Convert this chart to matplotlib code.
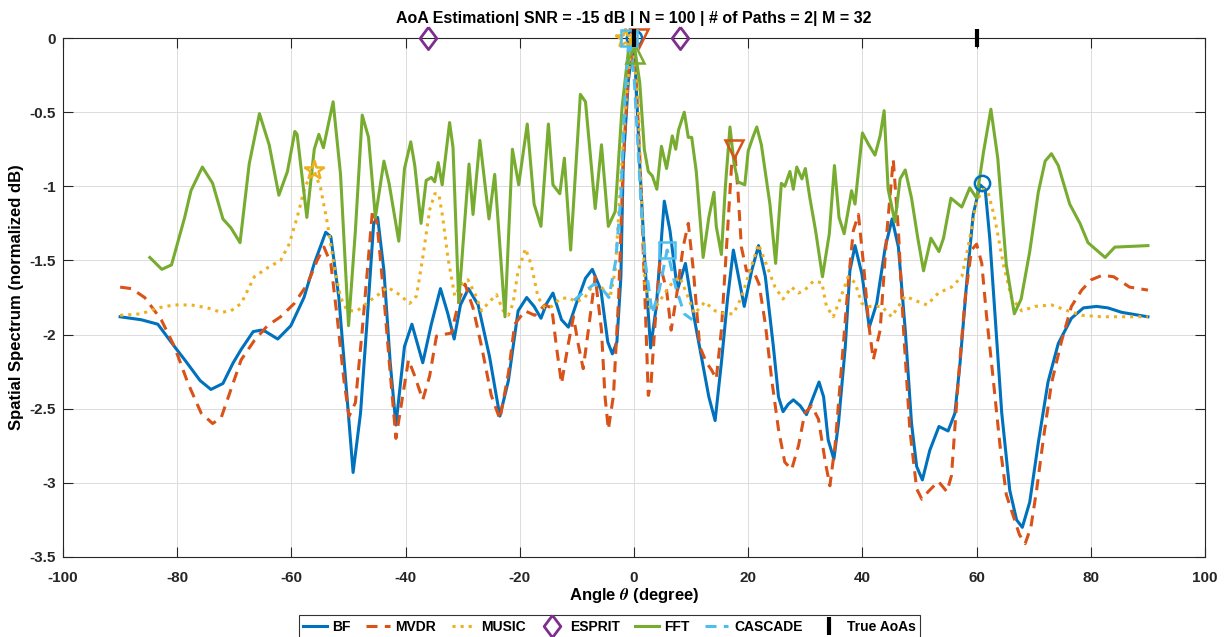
import matplotlib
matplotlib.use("Agg")
import matplotlib.pyplot as plt
from matplotlib.ticker import FuncFormatter

plt.rcParams['font.family'] = ['Liberation Sans', 'DejaVu Sans']
plt.rcParams['font.weight'] = 'bold'
plt.rcParams['axes.unicode_minus'] = False
plt.rcParams['mathtext.fontset'] = 'stix'

# spectra (angle in degree, normalized dB)
bf_ang = [-90, -86.3, -83.4, -80.5, -78.5, -76.0, -74.1, -72.0, -70.2, -68.8, -66.7, -65.3,
          -64.5, -62.4, -60.1, -57.8, -56.0, -54.0, -53.1, -51.7, -50.5, -49.2, -47.9, -46.7,
          -45.6, -44.9, -43.8, -42.7, -41.7, -40.2, -38.9, -37.0, -35.5, -33.9, -32.6, -31.5,
          -30.4, -29.0, -27.3, -25.3, -23.5, -22.0, -20.3, -18.8, -17.5, -16.3, -15.3, -14.2,
          -12.7, -11.5, -10.1, -8.5, -7.3, -5.8, -4.6, -3.8, -3.0, -2.3, -1.9, -1.0,
          0.0, 1.0, 1.9, 2.9, 3.9, 5.3, 6.3, 7.6, 9.0, 10.4, 11.7, 13.1, 14.2, 15.3, 16.4,
          17.4, 18.4, 19.3, 20.6, 21.8, 23.0, 24.4, 25.3, 26.1, 27.0, 27.9, 29.1, 30.2, 31.4,
          32.4, 33.2, 34.0, 35.0, 35.8, 37.0, 37.8, 38.7, 39.9, 41.2, 42.5, 44.0, 45.2, 46.3,
          47.5, 48.6, 49.5, 50.5, 51.8, 53.4, 55.0, 56.2, 57.1, 58.3, 59.4, 60.6, 61.5, 62.3,
          63.2, 64.4, 65.8, 67.0, 68.0, 69.3, 70.8, 72.5, 74.3, 76.6, 78.7, 81.0, 83.0, 85.4, 90]
bf_val = [-1.88, -1.90, -1.93, -2.08, -2.18, -2.31, -2.37, -2.33, -2.19, -2.10, -1.98, -1.97,
          -1.98, -2.03, -1.94, -1.75, -1.52, -1.31, -1.34, -1.75, -2.31, -2.93, -2.53, -1.88,
          -1.25, -1.21, -1.57, -2.19, -2.61, -2.08, -1.93, -2.19, -1.93, -1.69, -1.86, -2.03,
          -1.80, -1.69, -1.80, -2.15, -2.55, -2.31, -1.84, -1.75, -1.81, -1.89, -1.79, -1.72,
          -1.90, -1.95, -1.79, -1.62, -1.56, -1.70, -2.05, -2.13, -2.05, -1.61, -0.85, -0.29,
          0.0, -0.85, -1.52, -2.09, -1.81, -1.10, -1.30, -1.70, -1.52, -1.86, -2.13, -2.42,
          -2.58, -2.19, -1.75, -1.43, -1.63, -1.81, -1.57, -1.40, -1.61, -2.08, -2.42, -2.52,
          -2.47, -2.44, -2.48, -2.54, -2.42, -2.32, -2.42, -2.71, -2.84, -2.60, -2.08, -1.57,
          -1.40, -1.59, -1.95, -1.79, -1.41, -1.22, -1.41, -1.97, -2.60, -2.89, -2.98, -2.78,
          -2.62, -2.65, -2.53, -2.19, -1.63, -1.19, -0.99, -1.02, -1.35, -1.86, -2.53, -3.05,
          -3.25, -3.30, -3.13, -2.73, -2.32, -2.06, -1.89, -1.82, -1.81, -1.82, -1.85, -1.88]

mvdr_ang = [-90, -88.0, -85.7, -82.8, -80.5, -78.1, -75.8, -73.8, -72.3, -70.6, -68.8, -66.5,
            -64.2, -61.9, -59.5, -57.2, -55.5, -54.3, -53.1, -52.0, -50.8, -49.9, -48.8, -47.6,
            -46.5, -45.8, -45.0, -43.8, -42.7, -41.7, -40.5, -39.5, -38.4, -37.0, -35.8, -34.6,
            -33.5, -32.0, -30.5, -29.6, -28.2, -26.7, -25.0, -23.5, -22.0, -20.9, -19.1, -17.4,
            -15.6, -14.4, -13.6, -12.7, -11.5, -10.6, -9.8, -8.9, -8.0, -6.8, -5.7, -5.1, -4.5,
            -3.6, -2.7, -1.9, -1.0, 0.0, 1.0, 1.9, 2.5, 3.0, 3.6, 4.5, 5.7, 6.5, 7.4, 8.6, 9.5,
            10.4, 11.5, 12.7, 13.6, 14.4, 15.3, 16.2, 17.1, 17.7, 18.2, 18.8, 19.7, 20.9, 21.9,
            23.0, 24.1, 25.3, 26.4, 27.6, 28.8, 29.9, 31.1, 32.3, 33.5, 34.3, 35.2, 36.4, 37.5,
            38.4, 39.3, 40.2, 41.1, 41.9, 43.1, 44.3, 45.4, 46.3, 47.2, 48.3, 49.5, 50.4, 51.5,
            53.3, 54.8, 55.6, 56.8, 58.0, 59.1, 60.0, 60.9, 61.7, 62.9, 64.1, 65.2, 66.4, 67.5,
            68.5, 69.5, 70.5, 71.7, 73.1, 74.9, 76.6, 78.4, 80.1, 82.0, 84.0, 86.8, 90]
mvdr_val = [-1.68, -1.69, -1.75, -1.90, -2.08, -2.33, -2.53, -2.60, -2.56, -2.37, -2.17, -2.04,
            -1.94, -1.88, -1.79, -1.66, -1.50, -1.41, -1.52, -1.88, -2.31, -2.55, -2.46, -1.97,
            -1.48, -1.16, -1.25, -1.75, -2.26, -2.70, -2.41, -2.17, -2.28, -2.44, -2.28, -2.01,
            -2.00, -1.99, -1.75, -1.66, -1.82, -2.08, -2.41, -2.57, -2.26, -1.93, -1.84, -1.87,
            -1.80, -1.82, -2.08, -2.33, -2.06, -1.88, -2.06, -2.23, -1.97, -1.61, -1.97, -2.41,
            -2.64, -2.41, -1.75, -0.85, -0.22, -0.03, -0.80, -1.74, -2.41, -2.32, -1.97, -1.52,
            -1.70, -1.97, -1.75, -1.41, -1.25, -1.57, -2.08, -2.19, -2.24, -2.30, -1.97, -1.41,
            -0.85, -0.80, -1.03, -1.41, -1.57, -1.57, -1.66, -1.93, -2.30, -2.64, -2.86, -2.91,
            -2.75, -2.53, -2.48, -2.57, -2.86, -3.02, -2.75, -2.19, -1.66, -1.30, -1.19, -1.53,
            -1.93, -2.17, -1.97, -1.30, -0.82, -1.30, -1.97, -2.64, -3.04, -3.11, -3.06, -2.99,
            -3.06, -2.95, -2.30, -1.75, -1.43, -1.39, -1.52, -1.86, -2.30, -2.75, -3.08, -3.22,
            -3.35, -3.41, -3.30, -3.05, -2.70, -2.33, -2.04, -1.81, -1.70, -1.63, -1.60, -1.61,
            -1.68, -1.70]

music_ang = [-90, -86.3, -83.4, -80.5, -77.6, -74.7, -72.3, -70.6, -68.8, -66.5, -64.2, -61.9,
             -60.4, -59.0, -57.8, -56.9, -56.0, -54.9, -53.7, -52.6, -51.4, -50.2, -48.5, -46.2,
             -44.4, -43.2, -41.5, -40.8, -39.3, -38.1, -37.0, -35.8, -34.9, -34.2, -33.5, -32.6,
             -31.4, -30.2, -29.1, -27.9, -26.7, -25.6, -24.1, -22.9, -22.0, -21.2, -20.3, -19.0,
             -18.0, -16.8, -15.6, -14.4, -13.0, -11.5, -10.1, -8.6, -7.1, -5.7, -4.2, -3.3, -2.5,
             -1.6, -0.7, -0.3, 0.7, 1.3, 1.9, 2.7, 3.9, 5.4, 6.5, 8.0, 9.5, 10.6, 12.4, 14.2,
             15.9, 17.4, 18.8, 20.3, 21.8, 23.2, 24.7, 26.1, 27.6, 28.8, 29.9, 31.4, 32.9, 33.7,
             34.9, 36.1, 37.5, 38.7, 39.9, 41.1, 43.4, 45.1, 47.5, 49.2, 51.3, 53.3, 55.6, 57.4,
             58.5, 60.0, 61.2, 62.0, 63.2, 64.7, 66.1, 67.9, 70.2, 73.1, 76.0, 78.4, 81.9, 85.4, 90]
music_val = [-1.87, -1.86, -1.82, -1.80, -1.80, -1.82, -1.85, -1.84, -1.79, -1.61, -1.55, -1.50,
             -1.39, -1.21, -1.03, -0.94, -0.90, -1.01, -1.25, -1.52, -1.75, -1.84, -1.84, -1.77,
             -1.72, -1.68, -1.72, -1.74, -1.79, -1.74, -1.48, -1.16, -1.05, -1.05, -1.21, -1.48,
             -1.74, -1.66, -1.63, -1.72, -1.84, -1.79, -1.73, -1.84, -1.87, -1.79, -1.57, -1.42,
             -1.53, -1.75, -1.82, -1.81, -1.76, -1.75, -1.78, -1.75, -1.66, -1.68, -1.75, -1.57,
             -1.07, -0.52, -0.13, 0.0, -0.41, -1.08, -1.66, -1.81, -1.81, -1.72, -1.66, -1.61,
             -1.75, -1.86, -1.78, -1.84, -1.86, -1.86, -1.75, -1.57, -1.39, -1.53, -1.68, -1.76,
             -1.68, -1.72, -1.70, -1.64, -1.65, -1.81, -1.88, -1.76, -1.61, -1.65, -1.79, -1.81,
             -1.81, -1.88, -1.74, -1.77, -1.80, -1.72, -1.68, -1.61, -1.41, -1.10, -1.02, -1.04,
             -1.22, -1.53, -1.75, -1.84, -1.81, -1.80, -1.84, -1.87, -1.88, -1.88, -1.88]

fft_ang = [-84.8, -82.7, -81.0, -78.7, -77.6, -75.6, -73.8, -72.0, -70.6, -69.0, -67.4, -65.6,
           -63.9, -62.2, -60.7, -59.4, -59.0, -57.3, -56.0, -55.2, -54.4, -52.7, -51.4, -50.0,
           -48.8, -47.6, -46.5, -45.3, -43.8, -42.9, -41.2, -40.2, -39.1, -38.4, -37.3, -36.4,
           -35.5, -34.9, -34.3, -33.6, -32.3, -31.7, -30.7, -28.9, -28.2, -27.0, -25.4, -24.4,
           -22.6, -21.3, -20.2, -18.7, -17.5, -16.3, -15.0, -14.2, -13.0, -12.2, -11.1, -9.4,
           -8.5, -6.8, -5.7, -4.5, -3.3, -2.1, -1.0, 0.0, 1.0, 1.8, 2.5, 3.2, 4.0, 4.8, 5.7,
           6.7, 7.3, 7.8, 8.8, 9.5, 10.1, 10.9, 12.1, 13.1, 14.0, 14.4, 15.3, 16.0, 16.8, 17.5,
           18.2, 19.4, 20.0, 20.9, 21.5, 22.3, 23.8, 24.8, 25.8, 26.4, 27.3, 27.9, 28.5, 29.4,
           30.0, 30.8, 31.8, 33.0, 34.2, 35.1, 35.9, 36.8, 38.1, 38.7, 40.0, 41.1, 42.2, 43.1,
           43.8, 44.5, 45.7, 46.6, 47.5, 48.6, 49.7, 50.7, 52.0, 53.4, 54.2, 55.5, 57.4, 58.8,
           60.0, 61.2, 62.5, 63.7, 65.2, 66.6, 67.8, 69.3, 70.8, 72.0, 73.1, 74.3, 76.3, 78.1,
           79.5, 81.3, 82.5, 84.2, 90]
fft_val = [-1.48, -1.56, -1.53, -1.21, -1.03, -0.87, -0.98, -1.22, -1.28, -1.38, -0.85, -0.51,
           -0.72, -1.06, -0.90, -0.63, -0.65, -1.21, -0.75, -0.65, -0.74, -0.43, -0.92, -1.94,
           -1.30, -0.52, -0.67, -1.21, -0.83, -0.98, -1.37, -0.88, -0.70, -0.86, -1.25, -0.96,
           -0.94, -0.97, -0.84, -0.99, -0.57, -0.74, -1.78, -0.85, -1.19, -0.69, -1.22, -0.92,
           -1.88, -0.75, -0.99, -0.58, -1.12, -1.27, -0.58, -0.99, -1.05, -0.81, -1.43, -0.38,
           -0.43, -1.15, -0.72, -1.27, -1.17, -0.47, -0.09, -0.04, -0.30, -0.75, -0.90, -0.93,
           -1.02, -0.73, -0.88, -0.66, -0.75, -0.62, -0.50, -0.67, -0.67, -0.90, -1.48, -1.21,
           -1.04, -1.27, -1.46, -1.00, -0.60, -0.84, -0.97, -0.99, -0.76, -0.66, -0.60, -0.72,
           -1.12, -1.52, -0.98, -1.00, -0.90, -1.02, -0.87, -0.95, -0.88, -1.08, -1.30, -1.61,
           -1.32, -0.86, -1.21, -1.32, -1.03, -1.12, -0.64, -0.72, -0.79, -0.66, -0.49, -1.02,
           -1.24, -0.95, -0.89, -1.08, -1.35, -1.57, -1.35, -1.44, -1.35, -1.08, -1.14, -1.01,
           -1.08, -0.77, -0.48, -0.81, -1.53, -1.86, -1.76, -1.44, -1.04, -0.83, -0.78, -0.86,
           -1.12, -1.25, -1.38, -1.44, -1.48, -1.41, -1.40]

cascade_ang = [-10.5, -9.0, -7.0, -5.8, -4.4, -3.2, -2.3, -1.6, -0.9, 0.0, 1.2, 2.0, 3.2,
               4.4, 5.8, 7.3, 8.8, 10.2]
cascade_val = [-1.77, -1.72, -1.66, -1.68, -1.75, -1.50, -1.07, -0.40, 0.0, -0.25, -1.10,
               -1.52, -1.86, -1.70, -1.43, -1.68, -1.86, -1.90]

# estimated / true directions
bf_est = ([0.0, 61.0], [0.0, -0.98])
mvdr_est = ([0.9, 17.5], [0.0, -0.75])
music_est = ([-1.5, -56.0], [0.0, -0.89])
esprit_est = ([-36.0, 8.0], [0.0, 0.0])
fft_est = ([0.2], [-0.11])
cascade_est = ([-0.9, 5.8], [0.0, -1.43])
true_aoa = [0.0, 60.0]

c_bf, c_mvdr, c_music = '#0072BD', '#D95319', '#EDB120'
c_esprit, c_fft, c_cas = '#7E2F8E', '#77AC30', '#4DBEEE'

# diamond a bit wider than matplotlib's thin 'd'
diamond = [(0, 1), (0.75, 0), (0, -1), (-0.75, 0), (0, 1)]

fig = plt.figure(figsize=(12.24, 6.37), dpi=100)
ax = fig.add_axes((0.0515, 0.1256, 0.9330, 0.8147))

lw = 2.2
ax.plot(bf_ang, bf_val, '-', color=c_bf, lw=lw, label='BF')
ax.plot(mvdr_ang, mvdr_val, '--', color=c_mvdr, lw=lw, dashes=(3.6, 2.4), label='MVDR')
ax.plot(music_ang, music_val, ':', color=c_music, lw=lw, label='MUSIC')
ax.plot(*esprit_est, marker=diamond, color=c_esprit, mfc='none', ms=16, mew=2, ls='none',
        label='ESPRIT', clip_on=False, zorder=4)
ax.plot(fft_ang, fft_val, '-', color=c_fft, lw=lw, label='FFT')
ax.plot(cascade_ang, cascade_val, '--', color=c_cas, lw=lw, dashes=(3.6, 2.4), label='CASCADE')
ax.plot(true_aoa, [0, 0], '|', color='k', ms=13, mew=3, ls='none', label='True AoAs',
        clip_on=False, zorder=5)

mk = dict(mfc='none', mew=1.8, ls='none', clip_on=False, zorder=4)
ax.plot(*bf_est, 'o', color=c_bf, ms=11, **mk)
ax.plot(*mvdr_est, 'v', color=c_mvdr, ms=13, **mk)
ax.plot(*music_est, '*', color=c_music, ms=15, **mk)
ax.plot(*fft_est, '^', color=c_fft, ms=13, **mk)
ax.plot(*cascade_est, 's', color=c_cas, ms=11, **mk)

ax.set_xlim(-100, 100)
ax.set_ylim(-3.5, 0)
ax.set_xticks(range(-100, 101, 20))
ax.set_yticks([-3.5, -3, -2.5, -2, -1.5, -1, -0.5, 0])
fmt = FuncFormatter(lambda v, p: '%g' % v)
ax.xaxis.set_major_formatter(fmt)
ax.yaxis.set_major_formatter(fmt)
ax.tick_params(direction='in', top=True, right=True, length=7, width=0.8,
               labelsize=11, colors='#262626')
ax.tick_params(axis='x', pad=10)
ax.tick_params(axis='y', pad=5)
ax.grid(True, color='#dcdcdc', lw=0.7)
for s in ax.spines.values():
    s.set_color('#262626')
    s.set_linewidth(0.8)

ax.set_title('AoA Estimation| SNR = -15 dB | N = 100 | # of Paths = 2| M = 32',
             fontsize=11.5, fontweight='bold', pad=11)
ax.set_xlabel(r'Angle $\theta$ (degree)', fontsize=12, fontweight='bold', labelpad=1)
ax.set_ylabel('Spatial Spectrum (normalized dB)', fontsize=12, fontweight='bold', labelpad=4)

handles = ax.lines[:7]
leg = fig.legend(handles=handles, ncol=7, loc='lower center', bbox_to_anchor=(0.498, -0.012),
                 fontsize=10, frameon=True, fancybox=False, edgecolor='k',
                 handlelength=1.7, handletextpad=0.4, columnspacing=1.1, borderpad=0.3)
leg.get_frame().set_linewidth(0.8)

fig.savefig('out.png', dpi=100)
